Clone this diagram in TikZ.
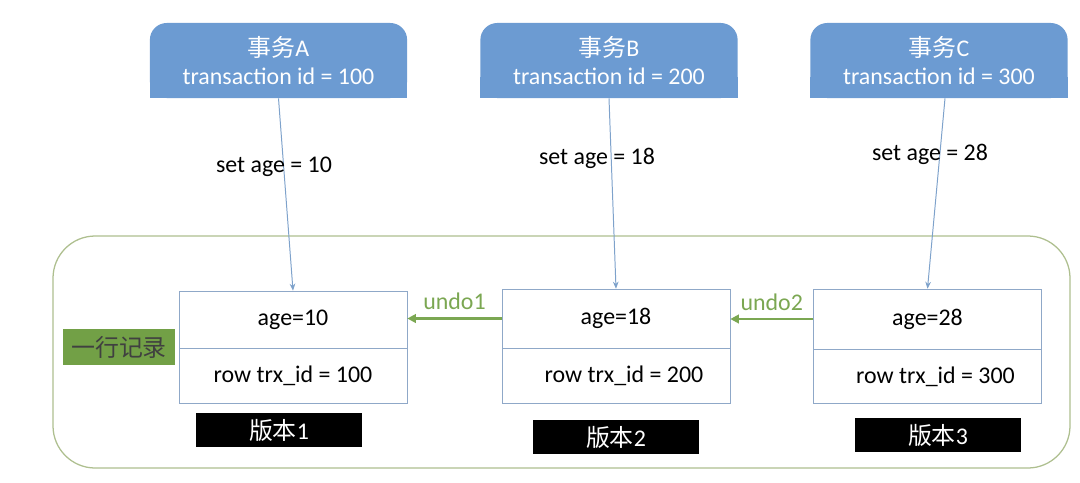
\documentclass[tikz,border=0pt]{standalone}
\usepackage{fontspec}
\setmainfont{Carlito}
\newfontfamily\cjk{Noto Sans CJK SC}
\usetikzlibrary{
	positioning,
	arrows.meta,
	backgrounds
}
\definecolor{txblue}{HTML}{6C9BD2}
\definecolor{lineblue}{HTML}{7EA2CB}
\definecolor{recblue}{HTML}{8FA8C8}
\definecolor{undogreen}{HTML}{7BA752}
\definecolor{rowgreen}{HTML}{72A046}
\definecolor{framegreen}{HTML}{AEBF8F}

\begin{document}
\begin{tikzpicture}[
			x=0.025cm, y=-0.025cm,
			every node/.style={font=\fontsize{17}{20}\selectfont},
			txbox/.style={
				fill=txblue,
				rounded corners=12,
				minimum width=6.43cm,
				minimum height=1.875cm,
				align=center,
				text=white,
				inner sep=0pt
			},
			cell/.style={
				draw=recblue,
				fill=white,
				minimum width=5.7cm,
				inner sep=0pt
			},
			verbox/.style={
				fill=black,
				text=white,
				minimum width=4.15cm,
				minimum height=0.85cm,
				inner sep=0pt
			},
			setarrow/.style={draw=lineblue,-{Stealth[length=5pt,width=4pt]},line width=0.7pt},
			undoarrow/.style={draw=undogreen,-{Triangle[length=6pt,width=6pt]},line width=1.6pt}
			]
			
			\useasboundingbox (0,0) rectangle (1080,482);
			
			% frame round the records
			\draw[framegreen,line width=0.9pt,rounded corners=30] (53,236) rectangle (1070,468);
			
			% transactions
			\node[txbox] (txA) at (278.5,60.5)
			{{\cjk 事务}A\\transaction id = 100};
			\node[txbox] (txB) at (609,60.5)
			{{\cjk 事务}B\\transaction id = 200};
			\node[txbox] (txC) at (939,60.5)
			{{\cjk 事务}C\\transaction id = 300};
			\begin{scope}[on background layer]
			\foreach \t in {txA,txB,txC}
			\fill[txblue] (\t.south west) rectangle ([yshift=-0.4cm]\t.east);
			\end{scope}
			
			% versions of the row
			\node[cell,minimum height=1.425cm] (recAtop) at (293,319.5) {age=10};
			\node[cell,minimum height=1.375cm,below=0pt of recAtop] (recAbot) {row trx\_id = 100};
			
			\node[cell,minimum height=1.475cm] (recBtop) at (616,318.5) {age=18};
			\node[cell,minimum height=1.375cm,below=0pt of recBtop] (recBbot) {\hspace{0.4cm}row trx\_id = 200};
			
			\node[cell,minimum height=1.5cm] (recCtop) at (927.5,319) {age=28};
			\node[cell,minimum height=1.35cm,below=0pt of recCtop] (recCbot) {\hspace{0.4cm}row trx\_id = 300};
			
			\node[verbox] (verA) at (279,430) {{\cjk 版本}1};
			\node[verbox] (verB) at (616,437) {{\cjk 版本}2};
			\node[verbox] (verC) at (938,435) {{\cjk 版本}3};
			
			\node[fill=rowgreen,text=black!75,minimum width=2.8cm,minimum height=0.9cm,inner sep=0pt] (row) at (119,347)
			{\cjk 一行记录};
			
			% updates
			\draw[setarrow] (txA.south) -- (recAtop.north);
			\draw[setarrow] (txB.south) -- (recBtop.north);
			\draw[setarrow] ([xshift=0.15cm]txC.south) -- (recCtop.north);
			
			\node (setA) at (274,167) {set age = 10};
			\node (setB) at (597,158) {set age = 18};
			\node (setC) at (930,154) {set age = 28};
			
			% undo log
			\draw[undoarrow] (recBtop.west) -- (recBtop.west -| recAtop.east)
			node[midway,above=2pt,text=undogreen] (undoA) {undo1};
			\draw[undoarrow] (recCtop.west) -- (recCtop.west -| recBtop.east)
			node[midway,above=2pt,text=undogreen] (undoB) {undo2};
			
		\end{tikzpicture}
\end{document}
